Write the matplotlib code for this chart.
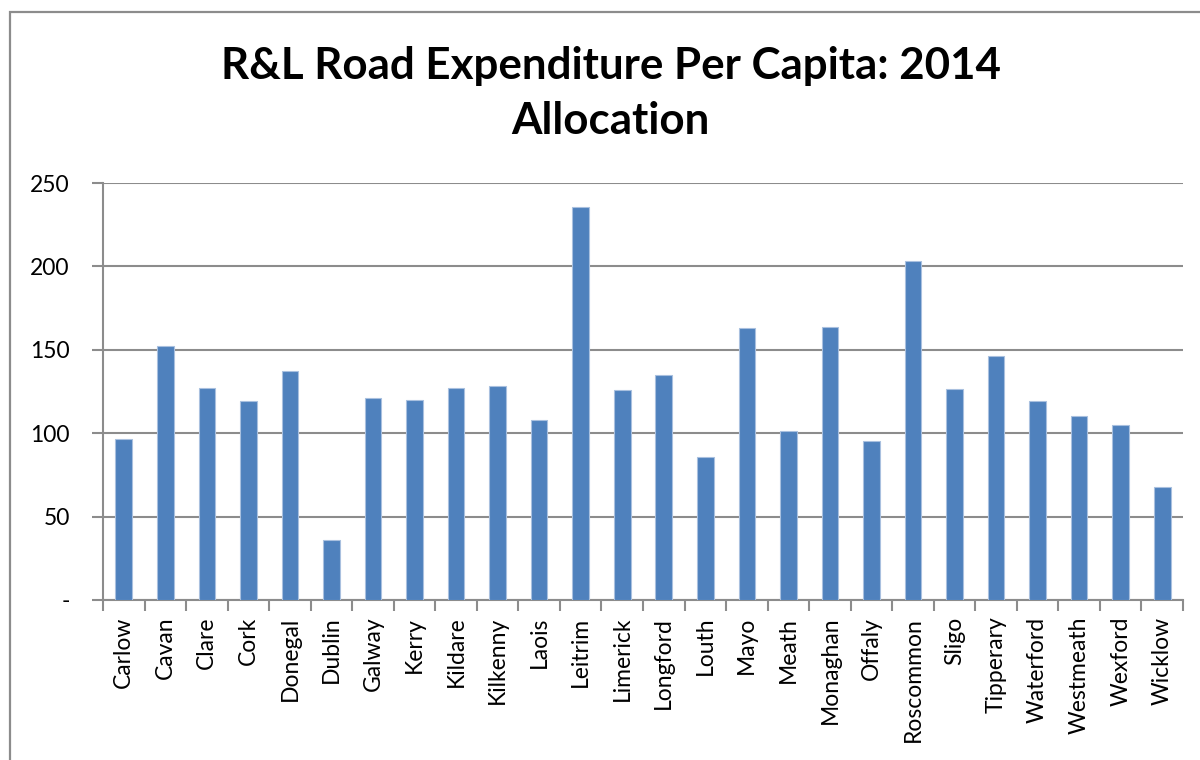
import numpy as np
import matplotlib
matplotlib.use("Agg")
import matplotlib.pyplot as plt
from matplotlib.patches import Rectangle

counties = ["Carlow", "Cavan", "Clare", "Cork", "Donegal", "Dublin", "Galway", "Kerry",
            "Kildare", "Kilkenny", "Laois", "Leitrim", "Limerick", "Longford", "Louth",
            "Mayo", "Meath", "Monaghan", "Offaly", "Roscommon", "Sligo", "Tipperary",
            "Waterford", "Westmeath", "Wexford", "Wicklow"]
per_capita = [96.4, 152.4, 127.1, 119.5, 137.5, 35.9, 120.9, 119.9,
              127.3, 128.3, 107.9, 235.8, 125.9, 134.7, 85.8,
              163.0, 101.4, 163.4, 95.2, 203.3, 126.7, 146.2,
              119.5, 110.3, 104.7, 67.8]
yticks = [0, 50, 100, 150, 200, 250]
ytick_labels = ["-", "50", "100", "150", "200", "250"]

plt.rcParams["font.family"] = ["Lato", "DejaVu Sans"]
W, H = 1200, 760
fig = plt.figure(figsize=(W / 100, H / 100), dpi=100)
ax = fig.add_axes([103 / W, 1 - 600 / H, (1183 - 103) / W, (600 - 183) / H])

# outer chart border (cropped on right/bottom in the reference)
fig.patches.append(Rectangle((10 / W, -0.1), 1.2, 1 - 12 / H + 0.1, transform=fig.transFigure,
                             fill=False, edgecolor="#8c8c8c", linewidth=1.6))

x = np.arange(len(counties))
ax.bar(x, per_capita, width=0.4, color="#4F81BD", edgecolor="#a9c0df", linewidth=0.8, zorder=3)

ax.set_xlim(-0.5, len(counties) - 0.5)
ax.set_ylim(0, 250)
ax.set_yticks(yticks)
ax.set_yticklabels(ytick_labels, fontsize=16.5)
ax.yaxis.grid(True, color="#8c8c8c", linewidth=1.5, zorder=0)
ax.set_axisbelow(True)

ax.set_xticks(x)
ax.set_xticklabels(counties, rotation=90, fontsize=16.5)
ax.set_xticks(np.arange(-0.5, len(counties)), minor=True)
ax.tick_params(axis="x", which="major", length=0, pad=12)
ax.tick_params(axis="x", which="minor", length=8, width=1.5, color="#8c8c8c", direction="out")
ax.tick_params(axis="y", length=8, width=1.5, color="#8c8c8c", pad=16)

for s in ["top", "right"]:
    ax.spines[s].set_visible(False)
for s in ["left", "bottom"]:
    ax.spines[s].set_color("#8c8c8c")
    ax.spines[s].set_linewidth(1.5)

fig.text(0.509, 1 - 66 / H, "R&L Road Expenditure Per Capita: 2014", ha="center", va="center",
         fontsize=31.6, fontweight="bold")
fig.text(0.509, 1 - 121 / H, "Allocation", ha="center", va="center",
         fontsize=31.6, fontweight="bold")

fig.savefig("out.png", dpi=100, facecolor="white")
